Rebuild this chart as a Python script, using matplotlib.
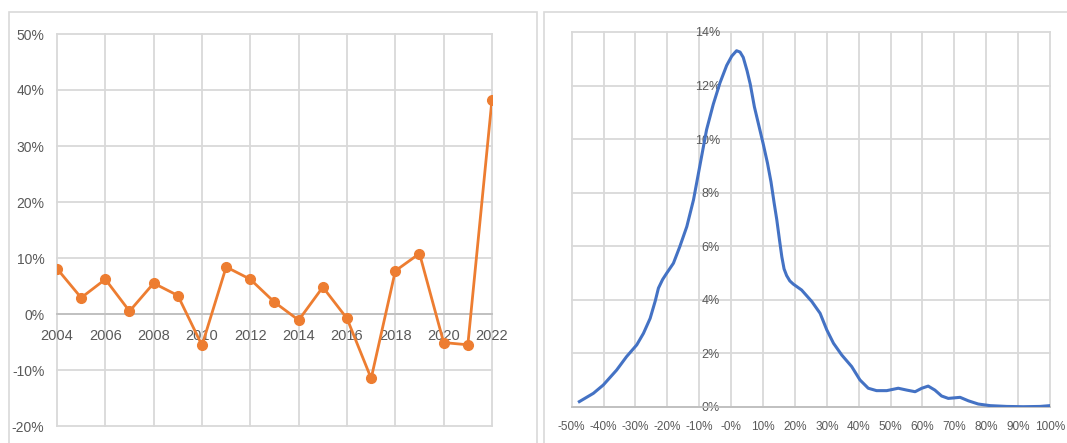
import numpy as np
import matplotlib
matplotlib.use("Agg")
import matplotlib.pyplot as plt
from matplotlib.patches import Rectangle
from matplotlib.ticker import PercentFormatter

plt.rcParams['font.family'] = ['Liberation Sans Narrow', 'DejaVu Sans Condensed', 'Liberation Sans', 'DejaVu Sans']
plt.rcParams['axes.unicode_minus'] = False

# left chart: yearly change
years = list(range(2004, 2023))
changes = [0.081, 0.029, 0.062, 0.005, 0.055, 0.033, -0.056, 0.084, 0.062, 0.021,
           -0.011, 0.048, -0.008, -0.115, 0.077, 0.108, -0.051, -0.055, 0.383]

# right chart: distribution curve (x = return, y = density)
dist_x = [-0.476, -0.432, -0.401, -0.359, -0.328, -0.296, -0.275, -0.254, -0.238, -0.228,
          -0.215, -0.202, -0.181, -0.161, -0.139, -0.118, -0.095, -0.077, -0.056, -0.035,
          -0.014, 0.002, 0.017, 0.028, 0.038, 0.050, 0.060, 0.073, 0.085, 0.100,
          0.114, 0.125, 0.135, 0.143, 0.152, 0.159, 0.166, 0.174, 0.184, 0.195,
          0.221, 0.253, 0.279, 0.300, 0.321, 0.347, 0.378, 0.404, 0.430, 0.456,
          0.488, 0.524, 0.551, 0.577, 0.598, 0.618, 0.639, 0.660, 0.681, 0.718,
          0.744, 0.775, 0.812, 0.864, 0.916, 0.969, 1.000]
dist_y = [0.0019, 0.0050, 0.0081, 0.0137, 0.0187, 0.0231, 0.0274, 0.0330, 0.0395, 0.0443,
          0.0475, 0.0499, 0.0536, 0.0598, 0.0673, 0.0773, 0.0920, 0.1035, 0.1130, 0.1210,
          0.1275, 0.1310, 0.1330, 0.1325, 0.1305, 0.1255, 0.1205, 0.1120, 0.1060, 0.0985,
          0.0910, 0.0840, 0.0760, 0.0700, 0.0620, 0.0560, 0.0515, 0.0490, 0.0470, 0.0458,
          0.0436, 0.0393, 0.0349, 0.0287, 0.0237, 0.0193, 0.0150, 0.0100, 0.0069, 0.0060,
          0.0060, 0.0069, 0.0062, 0.0056, 0.0069, 0.0077, 0.0062, 0.0040, 0.0031, 0.0035,
          0.0022, 0.0010, 0.0004, 0.0001, 0.0000, 0.0001, 0.0004]

W, H = 1067, 443
fig = plt.figure(figsize=(W / 100, H / 100), dpi=100)

grid_c = '#d9d9d9'
zero_c = '#bfbfbf'
txt_c = '#595959'

# panel frames
fig.patches.append(Rectangle((9 / W, -0.05), (537 - 9) / W, 1.05 - 12 / H,
                             transform=fig.transFigure, fill=False, ec=grid_c, lw=1.2))
fig.patches.append(Rectangle((544 / W, -0.05), (1075 - 544) / W, 1.05 - 12 / H,
                             transform=fig.transFigure, fill=False, ec=grid_c, lw=1.2))

# ---- left
ax1 = fig.add_axes([57 / W, (H - 426) / H, 435 / W, 392 / H])
ax1.plot(years, changes, color='#ED7D31', lw=2, marker='o', ms=7, zorder=3)
ax1.set_xlim(2004, 2022)
ax1.set_ylim(-0.2, 0.5)
ax1.set_xticks(range(2004, 2023, 2))
ax1.set_yticks(np.arange(-0.2, 0.51, 0.1))
ax1.yaxis.set_major_formatter(PercentFormatter(1.0, decimals=0))
ax1.grid(True, color=grid_c, lw=1.3, clip_on=False)
ax1.set_axisbelow(True)
for s in ['top', 'left', 'right']:
    ax1.spines[s].set_visible(False)
ax1.spines['bottom'].set_position(('data', 0))
ax1.spines['bottom'].set_color(zero_c)
ax1.spines['bottom'].set_linewidth(1.3)
ax1.tick_params(axis='x', length=0, pad=11, labelsize=10.5, labelcolor=txt_c)
ax1.tick_params(axis='y', length=0, pad=9, labelsize=10, labelcolor=txt_c)

# ---- right
ax2 = fig.add_axes([571.7 / W, (H - 406.7) / H, (1050 - 571.7) / W, (406.7 - 32) / H])
ax2.plot(dist_x, dist_y, color='#4472C4', lw=2.2, zorder=3, solid_joinstyle='round')
ax2.set_xlim(-0.5, 1.0)
ax2.set_ylim(0, 0.14)
ax2.set_xticks(np.arange(-0.5, 1.01, 0.1))
ax2.set_yticks(np.arange(0, 0.141, 0.02))
ax2.xaxis.set_major_formatter(PercentFormatter(1.0, decimals=0))
ax2.yaxis.set_major_formatter(PercentFormatter(1.0, decimals=0))
ax2.grid(True, color=grid_c, lw=1.3, clip_on=False)
ax2.set_axisbelow(True)
for s in ['top', 'right']:
    ax2.spines[s].set_visible(False)
ax2.spines['left'].set_position(('data', 0))
ax2.spines['left'].set_visible(False)
ax2.spines['bottom'].set_color(zero_c)
ax2.spines['bottom'].set_linewidth(1.3)
ax2.tick_params(axis='x', length=0, pad=10, labelsize=8.5, labelcolor=txt_c)
ax2.tick_params(axis='y', length=0, pad=8, labelsize=9, labelcolor=txt_c)

fig.savefig('out.png', dpi=100)
